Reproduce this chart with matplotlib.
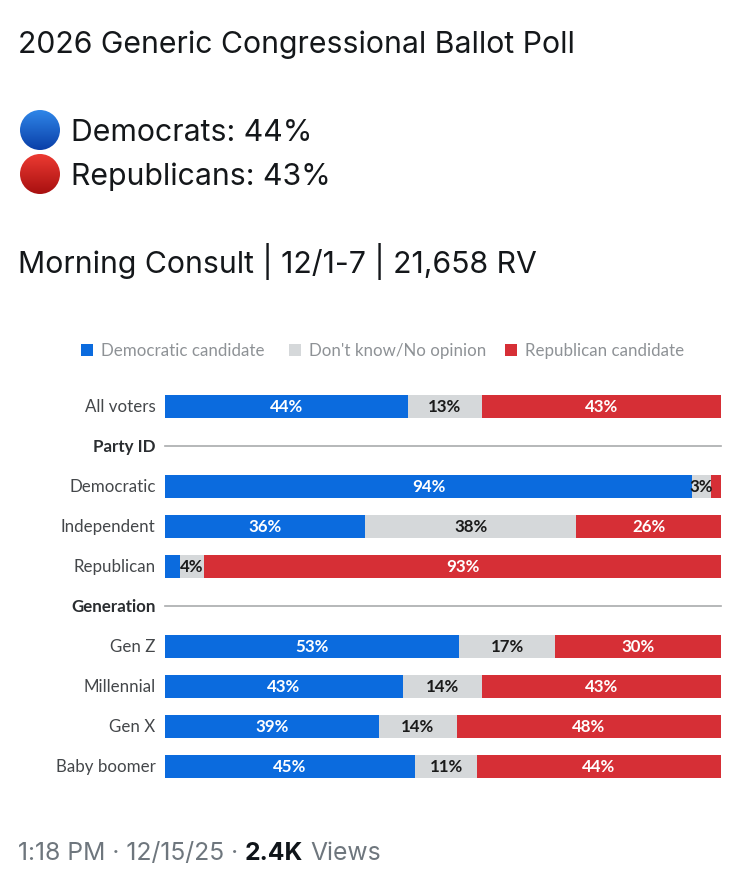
import numpy as np
import matplotlib
matplotlib.use("Agg")
import matplotlib.pyplot as plt
from matplotlib.patches import Circle, Rectangle

W, H = 750, 876
categories = ["All voters", "Party ID", "Democratic", "Independent", "Republican",
              "Generation", "Gen Z", "Millennial", "Gen X", "Baby boomer"]
dem = [43.7, None, 94.8, 36, 2.7, None, 52.9, 42.8, 38.5, 45]
dk = [13.3, None, 3.4, 38, 4.3, None, 17.3, 14.2, 14, 11.1]
rep = [43, None, 1.8, 26, 93, None, 29.8, 43, 47.5, 43.9]
dem_labels = ["44%", "", "94%", "36%", "", "", "53%", "43%", "39%", "45%"]
dk_labels = ["13%", "", "3%", "38%", "4%", "", "17%", "14%", "14%", "11%"]
rep_labels = ["43%", "", "", "26%", "93%", "", "30%", "43%", "48%", "44%"]
series_names = ["Democratic candidate", "Don't know/No opinion", "Republican candidate"]
colors = ["#0B6BDE", "#D5D8DA", "#D62F36"]

HEAD = "Inter"
CHART = "Lato"
plt.rcParams["font.family"] = [CHART, "DejaVu Sans"]

fig = plt.figure(figsize=(W / 100, H / 100), dpi=100, facecolor="white")

def fx(px):
    return px / W

def fy(py):
    return 1 - py / H

# header
INK = "#14171A"
HS = 21.75
fig.text(fx(18), fy(53), "2026 Generic Congressional Ballot Poll", family=HEAD, fontsize=HS,
         color=INK, va="baseline")
fig.text(fx(71), fy(141), "Democrats: 44%", family=HEAD, fontsize=HS, color=INK, va="baseline")
fig.text(fx(71), fy(185), "Republicans: 43%", family=HEAD, fontsize=HS, color=INK, va="baseline")
fig.text(fx(18), fy(273), "Morning Consult | 12/1-7 | 21,658 RV", family=HEAD, fontsize=HS,
         color=INK, va="baseline")

# overlay for emoji discs and legend swatches, in pixel units
ov = fig.add_axes([0, 0, 1, 1], zorder=5)
ov.set_xlim(0, W)
ov.set_ylim(H, 0)
ov.axis("off")
ov.patch.set_alpha(0)

def disc(cx, cy, r, top, bottom):
    c0, c1 = np.array(matplotlib.colors.to_rgb(top)), np.array(matplotlib.colors.to_rgb(bottom))
    t = np.linspace(0, 1, 64)[:, None, None]
    img = (c0[None, None, :] * (1 - t) + c1[None, None, :] * t)
    im = ov.imshow(img, extent=(cx - r, cx + r, cy + r, cy - r), aspect="auto", zorder=2)
    im.set_clip_path(Circle((cx, cy), r, transform=ov.transData))

disc(40, 130, 20, "#2F86E8", "#0A3FA8")
disc(40, 174, 20, "#EC3A32", "#A81010")
ov.set_xlim(0, W)
ov.set_ylim(H, 0)

# legend
legend_swatches = [81, 289, 505]
legend_text = [101, 309, 525]
for sx, tx, name, col in zip(legend_swatches, legend_text, series_names, colors):
    ov.add_patch(Rectangle((sx, 344), 12, 12, fc=col, ec="none"))
    ov.text(tx, 351, name, fontsize=12.2, color="#8E9296", va="center", ha="left")

# chart
left, right, top, bottom = 165, 721, 386, 786
ax = fig.add_axes([fx(left), fy(bottom), (right - left) / W, (bottom - top) / H])
ax.set_xlim(0, 1)
ax.set_ylim(len(categories) - 0.5, -0.5)
ax.axis("off")
ax.patch.set_alpha(0)

FS = 12.2
for i, cat in enumerate(categories):
    if dem[i] is None:
        ax.plot([0, 1], [i, i], color="#A9ABAD", lw=1.2, clip_on=False)
        ax.text(-0.017, i + 0.03, cat, ha="right", va="center", fontsize=FS, fontweight="bold", color="#2A2D30")
        continue
    ax.text(-0.017, i + 0.03, cat, ha="right", va="center", fontsize=FS, color="#44474A")
    vals = np.array([dem[i], dk[i], rep[i]], float)
    shares = vals / vals.sum()
    lefts = np.concatenate([[0], np.cumsum(shares)[:-1]])
    ax.barh([i] * 3, shares, left=lefts, height=0.575, color=colors, lw=0)
    labels = [dem_labels[i], dk_labels[i], rep_labels[i]]
    txtcols = ["white", "#1A1A1A", "white"]
    for s, l, lab, tc in zip(shares, lefts, labels, txtcols):
        if lab:
            ax.text(l + s / 2, i + 0.035, lab, ha="center", va="center", fontsize=FS,
                    fontweight="bold", color=tc, zorder=4)

# footer
fig.canvas.draw()
r = fig.canvas.get_renderer()
x = 18
GRAY = "#6E767D"
for s, col, wt, gap in [("1:18 PM · 12/15/25 ·", GRAY, "normal", 7), ("2.4K", "#0F1419", "bold", 7), ("Views", GRAY, "normal", 0)]:
    t = fig.text(fx(x), fy(860), s, family=HEAD, fontsize=17.8, color=col, fontweight=wt, va="baseline")
    x += t.get_window_extent(r).width + gap

fig.savefig("out.png", dpi=100, facecolor="white")
